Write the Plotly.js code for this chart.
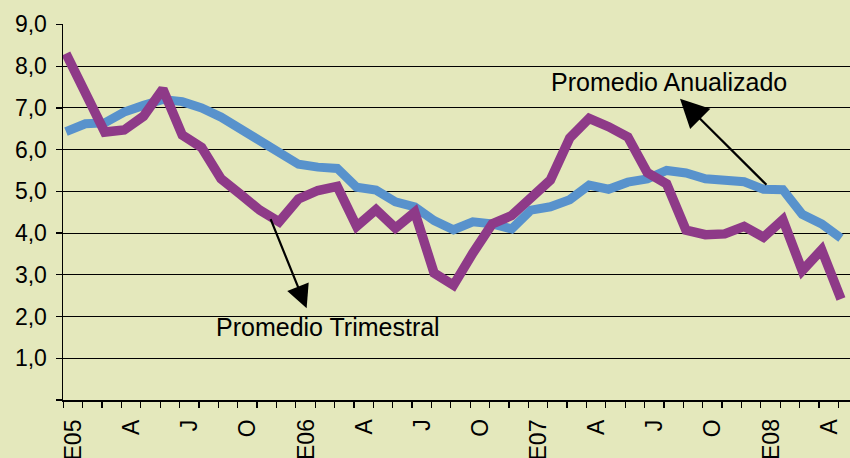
<!DOCTYPE html>
<html>
<head>
<meta charset="utf-8">
<script src="https://cdn.plot.ly/plotly-3.0.1.min.js"></script>
<style>
    html, body { margin: 0; padding: 0; background: #e4e8bc; }
    #chart { width: 850px; height: 458px; }
</style>
</head>
<body>
<div id="chart"></div>
<script>
// Serie mensual, enero 2005 (E05) a mayo 2008
const promedioAnualizado = [
    6.43, 6.62, 6.64, 6.9, 7.06, 7.2, 7.15, 7.0, 6.78, 6.5,
    6.2, 5.88, 5.65, 5.58, 5.55, 5.1, 5.03, 4.75, 4.63, 4.3,
    4.08, 4.27, 4.22, 4.1, 4.55, 4.63, 4.8, 5.15, 5.05, 5.22,
    5.3, 5.5, 5.44, 5.3, 5.28, 5.23, 5.05, 5.04, 4.45, 4.22,
    3.88,
];
const promedioTrimestral = [
    8.3, 7.35, 6.42, 6.47, 6.8, 7.45, 6.35, 6.05, 5.3, 4.93,
    4.55, 4.27, 4.82, 5.02, 5.12, 4.16, 4.56, 4.12, 4.5, 3.04,
    2.75, 3.52, 4.22, 4.42, 4.87, 5.27, 6.28, 6.75, 6.55, 6.3,
    5.45, 5.18, 4.07, 3.96, 3.98, 4.16, 3.9, 4.32, 3.1, 3.6,
    2.42,
];
// etiquetas trimestrales del eje X (E, A, J, O)
const etiquetasTrimestre = [
    "E05", "A", "J", "O", "E06", "A", "J", "O",
    "E07", "A", "J", "O", "E08", "A",
];
const yTicks = [0, 1, 2, 3, 4, 5, 6, 7, 8, 9];

const BG = "#e4e8bc";
const AZUL = "#5892cc";
const MORADO = "#8e3a88";
const FONT = "Liberation Sans, Arial, sans-serif";

const meses = promedioTrimestral.map((_, i) => i);
// marcas del eje entre categorías, etiquetas centradas entre marcas
const tickMarks = meses.map((i) => i - 0.14);
const labelPos = etiquetasTrimestre.map((_, i) => i * 3 + 0.36);

const traces = [
    {
        x: meses,
        y: promedioAnualizado,
        type: "scatter",
        mode: "lines",
        line: { color: AZUL, width: 9 },
        hoverinfo: "skip",
    },
    {
        x: meses,
        y: promedioTrimestral,
        type: "scatter",
        mode: "lines",
        line: { color: MORADO, width: 9.5 },
        hoverinfo: "skip",
    },
];

// etiquetas del eje X giradas, alineadas arriba (como en Excel)
const xLabelAnnotations = etiquetasTrimestre.map((t, i) => ({
    text: t,
    x: labelPos[i],
    xref: "x",
    y: 0,
    yref: "paper",
    yshift: -17,
    xanchor: "center",
    yanchor: "top",
    textangle: -90,
    showarrow: false,
    font: { family: FONT, size: 23, color: "#000" },
}));

const layout = {
    width: 850,
    height: 458,
    margin: { l: 63, r: 0, t: 24, b: 58, pad: 0 },
    paper_bgcolor: BG,
    plot_bgcolor: BG,
    showlegend: false,
    font: { family: FONT, size: 23, color: "#000" },
    xaxis: {
        range: [-0.155, 40.465],
        tickvals: tickMarks,
        ticks: "outside",
        ticklen: 6,
        tickwidth: 1.3,
        tickcolor: "#000",
        showticklabels: false,
        showgrid: false,
        zeroline: false,
        showline: true,
        linecolor: "#000",
        linewidth: 1.5,
    },
    yaxis: {
        range: [0, 9.01],
        tickvals: yTicks,
        ticktext: yTicks.map((v) => (v === 0 ? "" : v.toFixed(1).replace(".", ","))),
        ticks: "outside",
        ticklen: 6,
        tickwidth: 1.3,
        tickcolor: "#000",
        ticklabelstandoff: 4,
        showgrid: true,
        gridcolor: "#000",
        gridwidth: 1,
        zeroline: false,
        showline: true,
        linecolor: "#000",
        linewidth: 1.5,
    },
    annotations: [
        ...xLabelAnnotations,
        {
            text: "Promedio Anualizado",
            x: 31.1, y: 7.63, xref: "x", yref: "y",
            showarrow: false,
            font: { family: FONT, size: 25, color: "#000" },
        },
        {
            text: "Promedio Trimestral",
            x: 13.52, y: 1.76, xref: "x", yref: "y",
            showarrow: false,
            font: { family: FONT, size: 25, color: "#000" },
        },
        {
            text: "",
            x: 31.69, y: 7.22, xref: "x", yref: "y",
            ax: 36.23, ay: 5.12, axref: "x", ayref: "y",
            showarrow: true,
            arrowhead: 2, arrowsize: 2.6, arrowwidth: 2.2,
            arrowcolor: "#000",
        },
        {
            text: "",
            x: 12.42, y: 2.2, xref: "x", yref: "y",
            ax: 10.53, ay: 4.37, axref: "x", ayref: "y",
            showarrow: true,
            arrowhead: 2, arrowsize: 2.1, arrowwidth: 2.2,
            arrowcolor: "#000",
        },
    ],
};

Plotly.newPlot("chart", traces, layout, { displayModeBar: false, staticPlot: true });
</script>
</body>
</html>
